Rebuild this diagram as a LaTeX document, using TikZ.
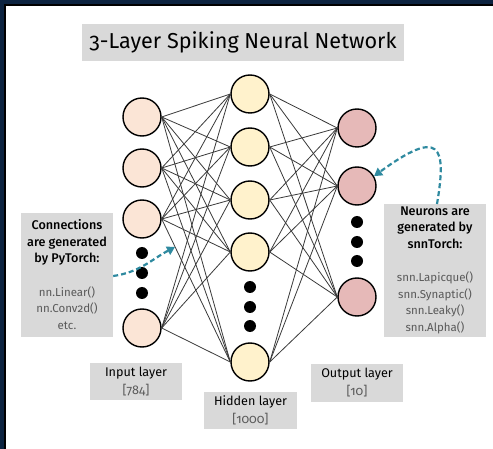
\documentclass[tikz,border=0pt]{standalone}
\usepackage{fontspec}
\setmainfont{Fira Sans}[Numbers=OldStyle, BoldFont={Fira Sans Medium}]
\usetikzlibrary{arrows.meta}
\definecolor{navy}{HTML}{0C2340}
\definecolor{boxgrey}{HTML}{D9D9D9}
\definecolor{txtgrey}{HTML}{595959}
\definecolor{inpfill}{HTML}{FBE5D6}
\definecolor{hidfill}{HTML}{FFF2CC}
\definecolor{outfill}{HTML}{E6B9B8}
\definecolor{arrowteal}{HTML}{2F8AA0}
\definecolor{edgegrey}{HTML}{3A3A3A}
\newcommand{\hd}[1]{{\fontsize{12.6}{16.5}\selectfont\bfseries #1}}
\tikzset{
  neuron/.style={circle, draw=black, line width=1.4pt, minimum size=38pt, inner sep=0pt},
  inp/.style={neuron, fill=inpfill},
  hid/.style={neuron, fill=hidfill},
  outn/.style={neuron, fill=outfill},
  vdot/.style={circle, fill=black, minimum size=12pt, inner sep=0pt},
  synapse/.style={draw=edgegrey, line width=0.8pt},
  greybox/.style={fill=boxgrey, inner sep=0pt},
  note/.style={align=center, font=\fontsize{11.5}{16.5}\selectfont},
  caption/.style={align=center, font=\fontsize{12.6}{18}\selectfont},
  pointer/.style={draw=arrowteal, line width=2.2pt, dash pattern=on 5pt off 3pt,
    -{Triangle[length=8pt,width=9pt]}},
}
\begin{document}
\begin{tikzpicture}[x=1pt,y=-1pt]
\useasboundingbox (0,0) rectangle (493,449);
% frame
\fill[navy] (0,0) rectangle (493,449);
\fill[black] (4,4) rectangle (493,449);
\fill[white] (6,6) rectangle (493,449);

% title
\node[greybox, minimum width=322pt, minimum height=37pt] (title) at (243,42.5) {};
\node[font=\fontsize{21.6}{26}\selectfont] (titletext) at (title.center) {3-Layer Spiking Neural Network};

% input layer
\node[inp] (i1) at (142,117) {};
\node[inp] (i2) at (142,168) {};
\node[inp] (i3) at (142,219) {};
\node[inp] (i4) at (142,328) {};
\node[vdot] (id1) at (142,253) {};
\node[vdot] (id2) at (142,273) {};
\node[vdot] (id3) at (142,293) {};

% hidden layer
\node[hid] (h1) at (250,94) {};
\node[hid] (h2) at (250,147) {};
\node[hid] (h3) at (250,200) {};
\node[hid] (h4) at (250,252) {};
\node[hid] (h5) at (250,362) {};
\node[vdot] (hd1) at (250,287) {};
\node[vdot] (hd2) at (250,307) {};
\node[vdot] (hd3) at (250,326) {};

% output layer
\node[outn] (o1) at (357,128) {};
\node[outn] (o2) at (357,186) {};
\node[outn] (o3) at (357,297) {};
\node[vdot] (od1) at (357,222) {};
\node[vdot] (od2) at (357,242) {};
\node[vdot] (od3) at (357,261) {};

% fully connected synapses
\foreach \a in {i1,i2,i3,i4}
  \foreach \b in {h1,h2,h3,h4,h5}
    \draw[synapse] (\a.east) -- (\b.west);
\foreach \a in {h1,h2,h3,h4,h5}
  \foreach \b in {o1,o2,o3}
    \draw[synapse] (\a.east) -- (\b.west);

% side notes
\node[greybox, minimum width=92pt, minimum height=124pt] (lbox) at (67,275) {};
\node[note, anchor=north] (ltxt) at (67,216) {\hd{Connections}\\\hd{are generated}\\\hd{by PyTorch:}\\[17pt]
  \textcolor{txtgrey}{nn.Linear()}\\\textcolor{txtgrey}{nn.Conv2d()}\\\textcolor{txtgrey}{etc.}};

\node[greybox, minimum width=102pt, minimum height=133pt] (rbox) at (435,270.5) {};
\node[note, anchor=north] (rtxt) at (435,203) {\hd{Neurons are}\\\hd{generated by}\\\hd{snnTorch:}\\[17pt]
  \textcolor{txtgrey}{snn.Lapicque()}\\\textcolor{txtgrey}{snn.Synaptic()}\\\textcolor{txtgrey}{snn.Leaky()}\\\textcolor{txtgrey}{snn.Alpha()}};

% layer captions
\node[greybox, minimum width=92pt, minimum height=37pt] (lin) at (136,381.5) {};
\node[caption] (lintxt) at (lin.center) {Input layer\\\textcolor{txtgrey}{[784]}};
\node[greybox, minimum width=93pt, minimum height=37pt] (lhid) at (250.5,410.5) {};
\node[caption] (lhidtxt) at (lhid.center) {Hidden layer\\\textcolor{txtgrey}{[1000]}};
\node[greybox, minimum width=92pt, minimum height=38pt] (lout) at (357,383) {};
\node[caption] (louttxt) at (lout.center) {Output layer\\\textcolor{txtgrey}{[10]}};

% pointers
\coordinate (ltip) at (175,247);
\draw[pointer] (lbox.east |- 0,276) to[out=8,in=208] (ltip);
\draw[pointer] (437,204) .. controls (447,145) and (440,128) .. (o2.30);
\end{tikzpicture}
\end{document}
